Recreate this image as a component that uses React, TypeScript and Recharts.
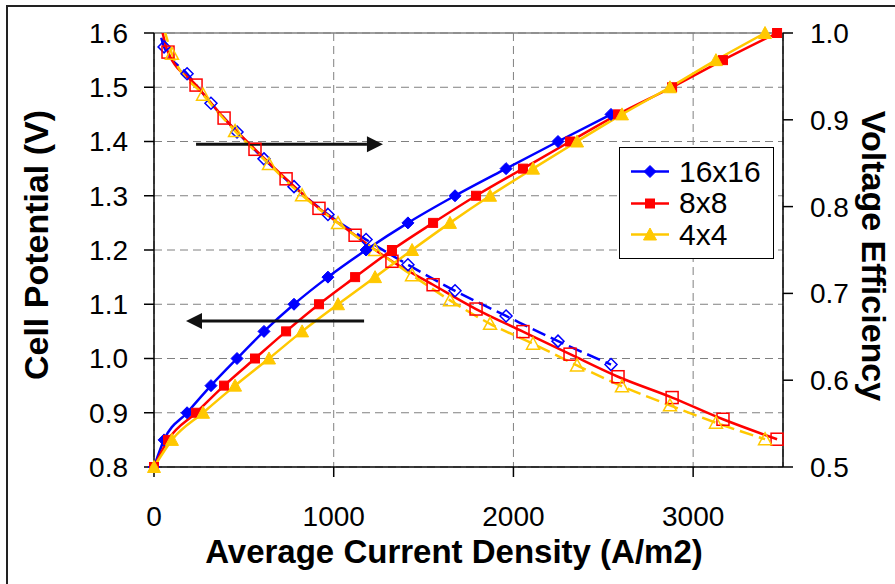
import React from 'react';
import { LineChart, Line, XAxis, YAxis, CartesianGrid, Legend, ReferenceLine, Label } from 'recharts';

const FONT = '"Liberation Sans", Arial, sans-serif';

// current density (A/m2) of each measured point
const current16 = [0, 56, 184, 317, 462, 612, 779, 968, 1180, 1413, 1675, 1959, 2248, 2543];
const current8 = [0, 78, 234, 390, 562, 735, 918, 1119, 1324, 1553, 1792, 2053, 2315, 2582, 2883, 3166, 3467];
const current4 = [0, 100, 273, 451, 640, 824, 1024, 1230, 1436, 1647, 1870, 2109, 2354, 2604, 2871, 3127, 3400];

// cell potential (V), left axis
const potential16 = [0.8, 0.85, 0.9, 0.95, 1.0, 1.05, 1.1, 1.15, 1.2, 1.25, 1.3, 1.35, 1.4, 1.45];
const potential8 = [0.8, 0.85, 0.9, 0.95, 1.0, 1.05, 1.1, 1.15, 1.2, 1.25, 1.3, 1.35, 1.4, 1.45, 1.5, 1.55, 1.6];
const potential4 = [0.8, 0.85, 0.9, 0.95, 1.0, 1.05, 1.1, 1.15, 1.2, 1.25, 1.3, 1.35, 1.4, 1.45, 1.5, 1.55, 1.6];

// voltage efficiency, right axis
const efficiency16 = [1.04, 0.984, 0.953, 0.919, 0.886, 0.855, 0.823, 0.791, 0.762, 0.733, 0.703, 0.674, 0.645, 0.618];
const efficiency8 = [1.05, 0.978, 0.94, 0.902, 0.866, 0.832, 0.798, 0.767, 0.737, 0.71, 0.682, 0.656, 0.63, 0.604, 0.58, 0.555, 0.532];
const efficiency4 = [1.05, 0.976, 0.929, 0.887, 0.849, 0.813, 0.781, 0.75, 0.721, 0.692, 0.665, 0.642, 0.617, 0.593, 0.571, 0.551, 0.532];

const xTicks = [0, 1000, 2000, 3000];
const leftTicks = [0.8, 0.9, 1.0, 1.1, 1.2, 1.3, 1.4, 1.5, 1.6];
const rightTicks = [0.5, 0.6, 0.7, 0.8, 0.9, 1.0];

type Row = { x: number; v: number; eff: number };
type Shape = 'diamond' | 'square' | 'triangle';

const rows = (xs: number[], vs: number[], es: number[]): Row[] =>
  xs.map((x, i) => ({ x, v: vs[i], eff: es[i] }));

const series = [
  { name: '16x16', color: '#0000FF', shape: 'diamond' as Shape, data: rows(current16, potential16, efficiency16), effDash: '14 6' },
  { name: '8x8', color: '#FF0000', shape: 'square' as Shape, data: rows(current8, potential8, efficiency8), effDash: undefined },
  { name: '4x4', color: '#FFC800', shape: 'triangle' as Shape, data: rows(current4, potential4, efficiency4), effDash: '14 6' },
];

function Marker({ cx, cy, shape, color, hollow }: { cx?: number; cy?: number; shape: Shape; color: string; hollow?: boolean }) {
  if (cx == null || cy == null || isNaN(cx) || isNaN(cy)) return null;
  const fill = hollow ? 'none' : color;
  const sw = hollow ? 1.5 : 1;
  if (shape === 'diamond') {
    const r = 6;
    return <polygon points={`${cx},${cy - r} ${cx + r},${cy} ${cx},${cy + r} ${cx - r},${cy}`} fill={fill} stroke={color} strokeWidth={sw} />;
  }
  if (shape === 'square') {
    const h = hollow ? 6 : 4.5;
    return <rect x={cx - h} y={cy - h} width={h * 2} height={h * 2} fill={fill} stroke={color} strokeWidth={sw} />;
  }
  const w = 6.5;
  const hh = 5.5;
  return <polygon points={`${cx},${cy - hh - 1} ${cx + w},${cy + hh} ${cx - w},${cy + hh}`} fill={fill} stroke={color} strokeWidth={sw} />;
}

const Arrow = (props: any) => {
  const { x1, y1, x2, y2 } = props;
  const dir = x2 > x1 ? 1 : -1;
  const base = x2 - dir * 16;
  return (
    <g>
      <line x1={x1} y1={y1} x2={base} y2={y2} stroke="#111" strokeWidth={3} />
      <polygon points={`${x2},${y2} ${base},${y2 - 8} ${base},${y2 + 8}`} fill="#111" />
    </g>
  );
};

const renderLegend = () => (
  <div style={{ width: 155, height: 112, boxSizing: 'border-box', border: '1.5px solid #000', background: '#fff', paddingTop: 8 }}>
    {series.map((s) => (
      <div key={s.name} style={{ display: 'flex', alignItems: 'center', height: 31.5 }}>
        <svg width={52} height={31} style={{ display: 'block' }}>
          <line x1={11} y1={15.5} x2={49} y2={15.5} stroke={s.color} strokeWidth={2.5} />
          <Marker cx={30} cy={15.5} shape={s.shape} color={s.color} />
        </svg>
        <span style={{ fontFamily: FONT, fontSize: 30, marginLeft: 7, color: '#000', lineHeight: '30px' }}>{s.name}</span>
      </div>
    ))}
  </div>
);

const title = (text: string, x: number, y: number, rotate: number, size: number) => () => (
  <text
    x={x}
    y={y}
    transform={rotate ? `rotate(${rotate} ${x} ${y})` : undefined}
    textAnchor="middle"
    dominantBaseline={rotate ? 'central' : 'alphabetic'}
    fontFamily={FONT}
    fontWeight="bold"
    fontSize={size}
    fill="#000"
  >
    {text}
  </text>
);

const tickStyle = { fontFamily: FONT, fontSize: 28, fill: '#000' };
const axisLine = { stroke: '#000', strokeWidth: 1.5 };

export default function App() {
  return (
    <div style={{ position: 'absolute', left: 0, top: 0, width: 895, height: 584, overflow: 'hidden', background: '#fff' }}>
      <div style={{ position: 'absolute', left: 6, top: 5, width: 950, height: 650, border: '2px solid #222' }} />
      <div style={{ position: 'absolute', left: 0, top: 0 }}>
        <LineChart width={895} height={584} margin={{ top: 33, right: 0, bottom: 0, left: 0 }}>
          <CartesianGrid yAxisId="left" stroke="#808080" strokeDasharray="8 5" strokeWidth={1} />
          <XAxis
            type="number"
            dataKey="x"
            domain={[0, 3500]}
            ticks={xTicks}
            height={117}
            tickSize={10}
            tickMargin={29}
            tick={tickStyle}
            axisLine={axisLine}
            tickLine={axisLine}
          >
            <Label content={title('Average Current Density (A/m2)', 454, 563, 0, 33)} />
          </XAxis>
          <YAxis
            yAxisId="left"
            domain={[0.8, 1.6]}
            ticks={leftTicks}
            width={154}
            tickSize={10}
            tickMargin={16}
            tickFormatter={(v: number) => v.toFixed(1)}
            tick={tickStyle}
            axisLine={axisLine}
            tickLine={axisLine}
          >
            <Label content={title('Cell Potential (V)', 36, 245, -90, 34)} />
          </YAxis>
          <YAxis
            yAxisId="right"
            orientation="right"
            domain={[0.5, 1.0]}
            allowDataOverflow
            ticks={rightTicks}
            width={112}
            tickSize={10}
            tickMargin={17}
            tickFormatter={(v: number) => v.toFixed(1)}
            tick={tickStyle}
            axisLine={axisLine}
            tickLine={axisLine}
          >
            <Label content={title('Voltage Efficiency', 874, 256, 90, 34)} />
          </YAxis>
          <ReferenceLine yAxisId="left" y={1.6} stroke="#808080" strokeWidth={1.5} />
          {series.map((s) => (
            <Line
              key={`eff-${s.name}`}
              yAxisId="right"
              data={s.data}
              dataKey="eff"
              type="monotone"
              stroke={s.color}
              strokeWidth={2.5}
              strokeDasharray={s.effDash}
              legendType="none"
              isAnimationActive={false}
              dot={(p: any) => <Marker key={`e${s.name}${p.index}`} cx={p.cx} cy={p.cy} shape={s.shape} color={s.color} hollow />}
            />
          ))}
          {series.map((s) => (
            <Line
              key={`v-${s.name}`}
              yAxisId="left"
              data={s.data}
              dataKey="v"
              name={s.name}
              type="monotone"
              stroke={s.color}
              strokeWidth={2.5}
              isAnimationActive={false}
              dot={(p: any) => <Marker key={`v${s.name}${p.index}`} cx={p.cx} cy={p.cy} shape={s.shape} color={s.color} />}
            />
          ))}
          <ReferenceLine yAxisId="left" segment={[{ x: 234, y: 1.395 }, { x: 1274, y: 1.395 }]} shape={Arrow} />
          <ReferenceLine yAxisId="left" segment={[{ x: 1169, y: 1.069 }, { x: 178, y: 1.069 }]} shape={Arrow} />
          <Legend
            layout="vertical"
            align="center"
            verticalAlign="middle"
            content={renderLegend}
            wrapperStyle={{ left: 619, top: 147, width: 155, height: 112 }}
          />
        </LineChart>
      </div>
    </div>
  );
}
